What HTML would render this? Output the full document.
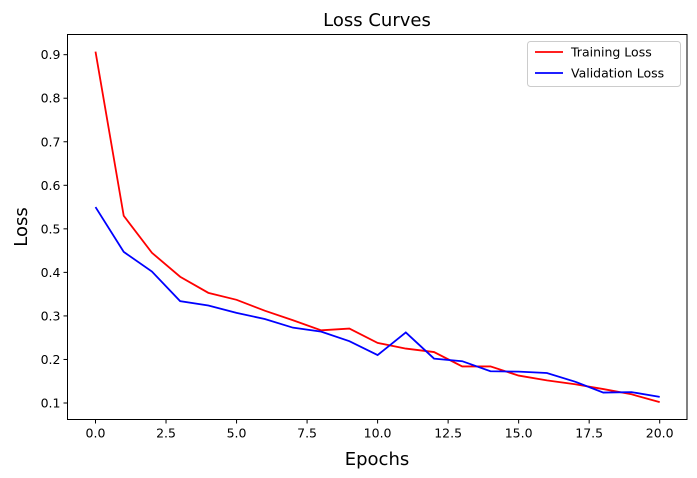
<!DOCTYPE html>
<html><head><meta charset="utf-8"><style>
body{margin:0;background:#fff;}
svg{display:block;font-family:"DejaVu Sans","Liberation Sans",sans-serif;}
</style></head><body>
<svg id="c" width="697" height="478"></svg>
<script>
const epochs=[0,1,2,3,4,5,6,7,8,9,10,11,12,13,14,15,16,17,18,19,20];
const trainLoss=[0.907,0.53,0.445,0.39,0.353,0.337,0.312,0.29,0.267,0.271,0.238,0.225,0.217,0.184,0.184,0.163,0.152,0.143,0.132,0.12,0.102];
const valLoss=[0.55,0.447,0.402,0.334,0.324,0.307,0.293,0.273,0.264,0.242,0.21,0.262,0.202,0.196,0.173,0.172,0.169,0.149,0.124,0.125,0.114];
const xTicks=[0,2.5,5,7.5,10,12.5,15,17.5,20];
const xTickLabels=["0.0","2.5","5.0","7.5","10.0","12.5","15.0","17.5","20.0"];
const yTicks=[0.1,0.2,0.3,0.4,0.5,0.6,0.7,0.8,0.9];
const yTickLabels=["0.1","0.2","0.3","0.4","0.5","0.6","0.7","0.8","0.9"];
const L=67.5,T=34.5,R=687,B=419.5;
const xs=v=>95.5+v*28.21;
const ys=v=>403-(v-0.1)*435.4;
const s=document.getElementById('c');const NS='http://www.w3.org/2000/svg';
function mk(t,a,p){const e=document.createElementNS(NS,t);for(const k in a)e.setAttribute(k,a[k]);(p||s).appendChild(e);return e;}
function line(data,color,name){const el=mk('polyline',{points:data.map((v,i)=>xs(epochs[i])+','+ys(v)).join(' '),fill:'none',stroke:color,'stroke-width':1.8});

}
line(trainLoss,'#ff0000','training-loss-line');
line(valLoss,'#0000ff','validation-loss-line');
const fr=mk('rect',{x:L,y:T,width:R-L,height:B-T,fill:'none',stroke:'#000','stroke-width':1});


xTicks.forEach((v,i)=>{mk('line',{x1:xs(v),x2:xs(v),y1:B,y2:B+4,stroke:'#000'});
const t=mk('text',{x:xs(v),y:B+18,'font-size':12.5,'text-anchor':'middle',fill:'#000'});t.textContent=xTickLabels[i];

});
yTicks.forEach((v,i)=>{mk('line',{x1:L-4,x2:L,y1:ys(v),y2:ys(v),stroke:'#000'});
const t=mk('text',{x:L-7,y:ys(v)+4.5,'font-size':12.5,'text-anchor':'end',fill:'#000'});t.textContent=yTickLabels[i];

});
</script>
<svg style="position:absolute;left:0;top:0" width="697" height="478">
<text x="377" y="26" font-size="18" text-anchor="middle" font-family="DejaVu Sans,sans-serif">Loss Curves</text>
<text x="377" y="465" font-size="18" text-anchor="middle" font-family="DejaVu Sans,sans-serif">Epochs</text>
<text x="27" y="227" font-size="18" text-anchor="middle" font-family="DejaVu Sans,sans-serif" transform="rotate(-90 27 227)">Loss</text>
<g font-family="DejaVu Sans,sans-serif" font-size="12.5">
<rect x="527.5" y="41.5" width="153" height="45" rx="3" fill="#fff" stroke="#ccc"/>
<line x1="535" x2="563" y1="52" y2="52" stroke="#ff0000" stroke-width="1.8"/>
<text x="571" y="56.5">Training Loss</text>
<line x1="535" x2="563" y1="73" y2="73" stroke="#0000ff" stroke-width="1.8"/>
<text x="571" y="77.5">Validation Loss</text>
</g>
</svg>
</body></html>
